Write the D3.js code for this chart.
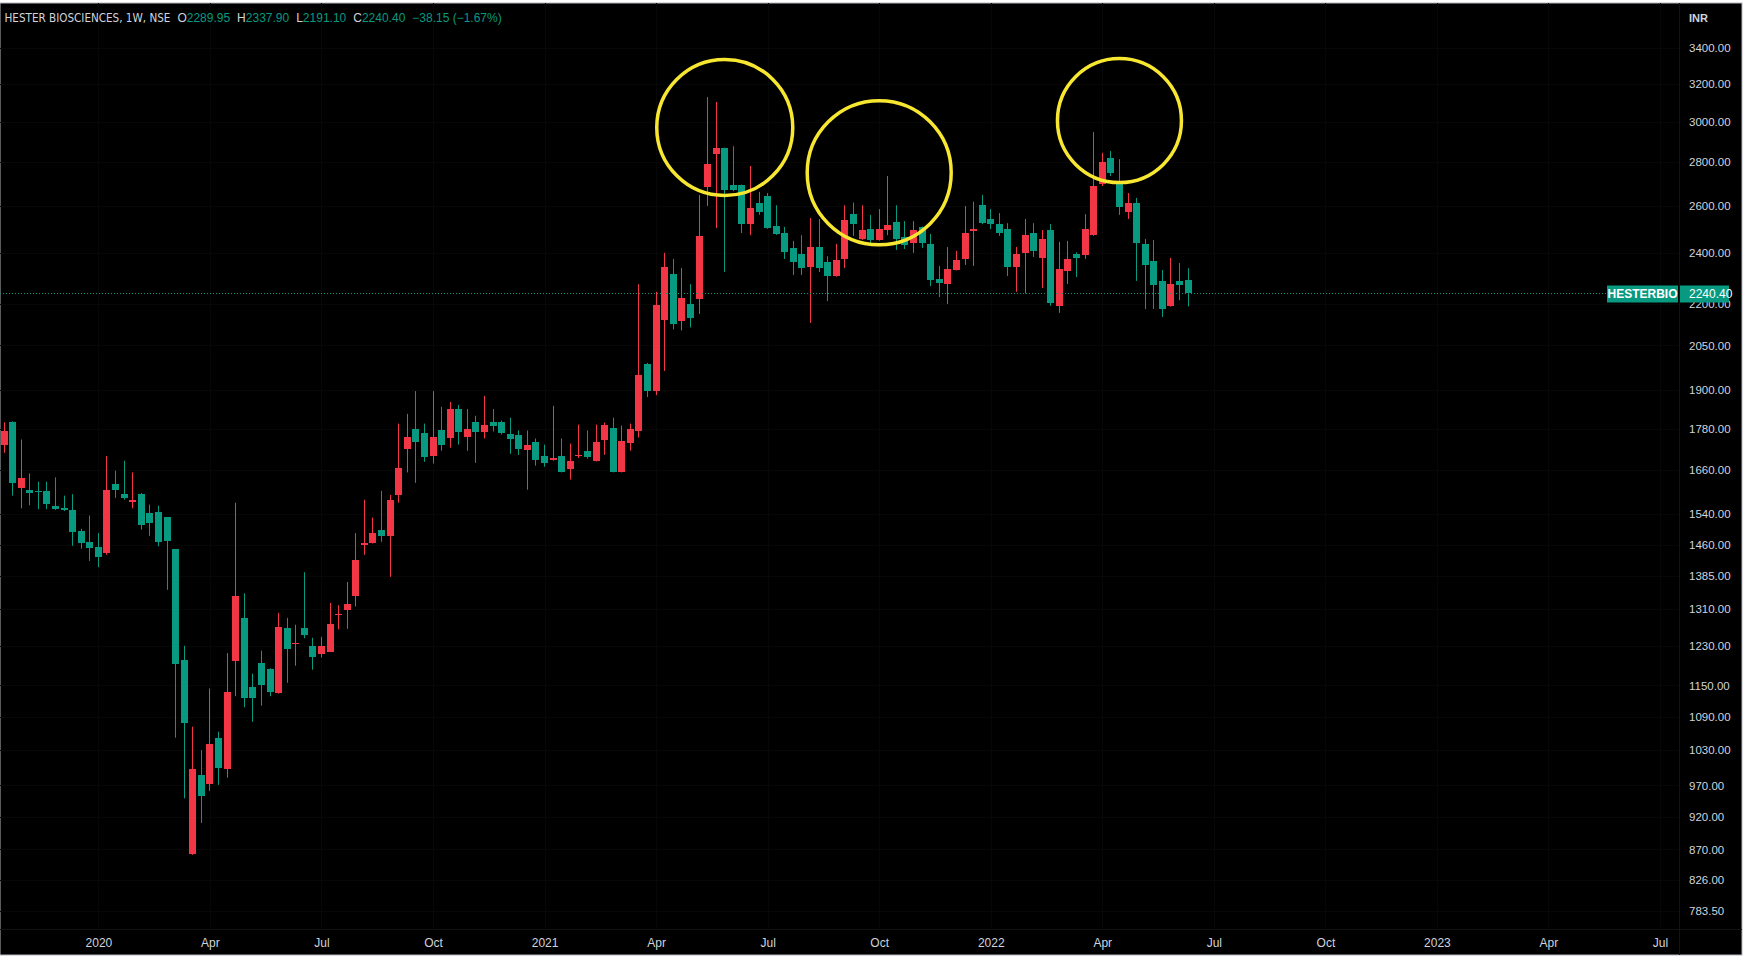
<!DOCTYPE html>
<meta charset="utf-8">
<script src="https://cdnjs.cloudflare.com/ajax/libs/d3/7.8.5/d3.min.js"></script>
<style>
  html, body { margin: 0; padding: 0; background: #ffffff; overflow: hidden; }
  svg { display: block; font-family: "Liberation Sans", Arial, sans-serif; }
</style>
<svg width="1753" height="961"></svg>
<script>
// weekly candles, Oct 21 2019 -> Jun 13 2022
var open = [1729,1799,1607,1604,1601,1601,1559,1554,1550,1495,1467,1455,1441,1620,1592,1572,1592,1543,1545,1530,
  1450,1201,863,988,972,1051,999,1197,1290,1146,1195,1182,1136,1268,1233,1268,1230,1214,1218,1295,
  1308,1339,1462,1466,1498,1484,1588,1717,1780,1765,1696,1774,1750,1840,1756,1801,1771,1801,1801,1762,
  1759,1717,1741,1699,1688,1699,1663,1699,1713,1685,1747,1783,1654,1738,1771,1987,1897,2141,2315,2138,
  2200,2218,2684,2839,2868,2693,2693,2520,2612,2644,2512,2482,2420,2396,2343,2424,2363,2307,2375,2563,
  2457,2499,2453,2495,2529,2466,2441,2508,2436,2296,2276,2331,2375,2491,2602,2542,2520,2499,2343,2400,
  2482,2379,2495,2193,2327,2396,2392,2473,2698,2820,2698,2573,2612,2436,2367,2288,2193,2288,2289.95];
var high = [1799,1802,1747,1649,1626,1626,1638,1588,1592,1501,1535,1490,1699,1657,1685,1652,1595,1564,1561,1530,
  1450,1230,1072,1030,1144,1063,1215,1569,1345,1173,1220,1184,1301,1290,1275,1394,1247,1249,1323,1318,
  1371,1490,1577,1530,1601,1590,1795,1825,1897,1795,1897,1847,1862,1853,1840,1819,1882,1840,1804,1813,
  1774,1774,1750,1732,1850,1750,1735,1792,1774,1792,1798,1813,1789,1795,2275,1990,2246,2400,2375,2339,
  2275,2648,3128,3102,2870,2877,2695,2782,2662,2657,2602,2508,2449,2473,2546,2542,2386,2437,2602,2614,
  2602,2560,2585,2735,2602,2533,2533,2510,2478,2347,2424,2408,2599,2618,2648,2585,2568,2524,2424,2542,
  2524,2495,2520,2445,2449,2402,2563,2947,2845,2854,2814,2657,2635,2457,2453,2331,2379,2359,2337.90];
var low = [1708,1588,1554,1562,1552,1552,1550,1547,1458,1451,1421,1406,1436,1582,1577,1554,1499,1483,1457,1353,
  1052,949,862,910,961,971,983,1129,1108,1081,1111,1129,1134,1155,1189,1246,1181,1206,1217,1265,
  1266,1315,1436,1464,1468,1383,1569,1652,1623,1682,1677,1714,1723,1732,1714,1679,1750,1771,1762,1705,
  1702,1604,1671,1668,1685,1652,1632,1693,1691,1683,1702,1652,1652,1714,1753,1878,1884,1963,2107,2103,
  2114,2163,2599,2503,2323,2665,2482,2473,2560,2500,2474,2375,2311,2311,2130,2323,2211,2305,2339,2470,
  2453,2441,2450,2473,2412,2416,2400,2420,2268,2226,2200,2329,2351,2347,2520,2499,2470,2307,2246,2239,
  2383,2261,2193,2167,2276,2303,2375,2470,2689,2735,2560,2542,2288,2181,2181,2152,2190,2214,2191.10];
var close = [1771,1621,1635,1597,1599,1566,1552,1549,1494,1465,1453,1431,1604,1604,1582,1577,1509,1517,1468,1470,
  1193,1079,998,954,1040,999,1138,1338,1125,1125,1151,1136,1270,1224,1236,1252,1208,1230,1277,1298,
  1321,1423,1466,1490,1484,1577,1663,1753,1741,1693,1753,1729,1840,1768,1780,1771,1792,1789,1768,1747,
  1717,1732,1688,1679,1693,1654,1685,1702,1696,1741,1792,1654,1744,1780,1948,1897,2197,2343,2128,2222,
  2148,2470,2791,2868,2671,2671,2520,2590,2573,2504,2478,2404,2363,2339,2424,2339,2307,2371,2538,2520,
  2495,2453,2499,2516,2457,2432,2495,2441,2292,2280,2335,2371,2482,2499,2524,2520,2482,2343,2396,2473,
  2408,2457,2204,2335,2375,2379,2499,2689,2800,2749,2595,2612,2441,2351,2272,2181,2276,2272,2240.40];

var weeks = d3.utcMonday.range(new Date(Date.UTC(2019, 9, 21)), new Date(Date.UTC(2022, 5, 14)));

var timeTicks = ["2020-01-06","2020-04-06","2020-07-06","2020-10-05","2021-01-04","2021-04-05","2021-07-05",
  "2021-10-04","2022-01-03","2022-04-04","2022-07-04","2022-10-03","2023-01-02","2023-04-03","2023-07-03"];
var timeLabels = ["2020","Apr","Jul","Oct","2021","Apr","Jul","Oct","2022","Apr","Jul","Oct","2023","Apr","Jul"];
var priceTicks = [3400,3200,3000,2800,2600,2400,2200,2050,1900,1780,1660,1540,1460,1385,1310,1230,1150,1090,
  1030,970,920,870,826,783.5];

var symbol = "HESTERBIO";
var title = "HESTER BIOSCIENCES, 1W, NSE";
var change = "\u221238.15 (\u22121.67%)";

// highlighted tops: week index, price at the centre of the ring
var ringWeek = [84, 102, 130];
var ringPrice = [2970, 2750, 3005];

var up = "#F23645", down = "#089981", txt = "#d1d4dc";

var svg = d3.select("svg");
var W = 1742, H = 955, top0 = 3, axisX = 1679, axisY = 929;

var parse = d3.utcParse("%Y-%m-%d");
var tickDates = timeTicks.map(parse);

var x = d3.scaleUtc()
  .domain([parse("2020-01-06"), parse("2023-07-03")])
  .range([98.4, 1660]);
var y = d3.scaleLog()
  .domain([3400, 783.5])
  .range([48, 911]);

svg.append("rect")
  .attr("x", 0).attr("y", top0).attr("width", W).attr("height", H - top0)
  .attr("fill", "#000").attr("stroke", "#b2b5be").attr("stroke-width", 1);

// grid (barely visible)
svg.append("g").selectAll("line").data(priceTicks).enter().append("line")
  .attr("x1", 0).attr("x2", axisX)
  .attr("y1", function(d){ return Math.round(y(d)) + 0.5; })
  .attr("y2", function(d){ return Math.round(y(d)) + 0.5; })
  .attr("stroke", "#070707");
svg.append("g").selectAll("line").data(tickDates).enter().append("line")
  .attr("y1", top0).attr("y2", axisY)
  .attr("x1", function(d){ return Math.round(x(d)) + 0.5; })
  .attr("x2", function(d){ return Math.round(x(d)) + 0.5; })
  .attr("stroke", "#070707");

// candles
var bars = weeks.map(function(d, i){
  return {date: d, o: open[i], h: high[i], l: low[i], c: close[i]};
});
var cg = svg.append("g");
var candle = cg.selectAll("g").data(bars).enter().append("g")
  .attr("fill", function(d){ return d.c >= d.o ? up : down; });
candle.append("rect")
  .attr("x", function(d){ return Math.round(x(d.date) - 3.5) + 3; })
  .attr("width", 1)
  .attr("y", function(d){ return y(d.h); })
  .attr("height", function(d){ return Math.max(1, y(d.l) - y(d.h)); });
candle.append("rect")
  .attr("x", function(d){ return Math.round(x(d.date) - 3.5); })
  .attr("width", 7)
  .attr("y", function(d){ return Math.round(y(Math.max(d.o, d.c))); })
  .attr("height", function(d){ return Math.max(1, Math.round(y(Math.min(d.o, d.c)) - y(Math.max(d.o, d.c)))); });

// yellow rings
var ringR = [68, 72, 62];
svg.append("g").selectAll("circle").data(ringWeek).enter().append("circle")
  .attr("cx", function(d){ return x(weeks[d]); })
  .attr("cy", function(d, i){ return y(ringPrice[i]); })
  .attr("r", function(d, i){ return ringR[i]; })
  .attr("fill", "none").attr("stroke", "#f7e731").attr("stroke-width", 3.5);

// last price line
var last = close[close.length - 1];
svg.append("line")
  .attr("x1", 0).attr("x2", 1607)
  .attr("y1", Math.round(y(last)) + 0.5).attr("y2", Math.round(y(last)) + 0.5)
  .attr("stroke", down).attr("stroke-dasharray", "1,2");

// axis separators
svg.append("line").attr("x1", axisX + 0.5).attr("x2", axisX + 0.5).attr("y1", top0).attr("y2", H)
  .attr("stroke", "#131313");
svg.append("line").attr("x1", 0).attr("x2", W).attr("y1", axisY + 0.5).attr("y2", axisY + 0.5)
  .attr("stroke", "#131313");

// price axis
var yAxis = svg.append("g")
  .attr("transform", "translate(" + axisX + ",0)")
  .call(d3.axisRight(y).tickValues(priceTicks).tickFormat(function(d){ return d.toFixed(2); })
    .tickSize(0).tickPadding(10));
yAxis.select(".domain").remove();
yAxis.selectAll("text").attr("fill", txt).attr("font-size", 11.5)
  .attr("font-family", "'Liberation Sans', Arial, sans-serif");

svg.append("text").attr("x", 1689).attr("y", 22).attr("fill", txt)
  .attr("font-size", 11).attr("font-weight", "bold").text("INR");

// time axis
var xAxis = svg.append("g")
  .attr("transform", "translate(0," + axisY + ")")
  .call(d3.axisBottom(x).tickValues(tickDates).tickFormat(function(d, i){ return timeLabels[i]; })
    .tickSize(0).tickPadding(9.5));
xAxis.select(".domain").remove();
xAxis.selectAll("text").attr("fill", txt).attr("font-size", 12)
  .attr("font-family", "'Liberation Sans', Arial, sans-serif");

// last price labels
var ly = Math.round(y(last)) - 7.5;
svg.append("rect").attr("x", 1607).attr("y", ly).attr("width", 71).attr("height", 17).attr("fill", down);
svg.append("text").attr("x", 1642.5).attr("y", ly + 12.5).attr("text-anchor", "middle")
  .attr("fill", "#fff").attr("font-size", 12).attr("font-weight", "bold").text(symbol);
svg.append("rect").attr("x", axisX + 1).attr("y", ly).attr("width", 49).attr("height", 17).attr("fill", down);
svg.append("text").attr("x", 1689).attr("y", ly + 12.5)
  .attr("fill", "#fff").attr("font-size", 12).text(last.toFixed(2));

// header: narrow face for the name, OHLC follows it
var titleText = svg.append("text").attr("x", 4.5).attr("y", 22).attr("fill", txt)
  .attr("font-family", "'Liberation Sans Narrow', 'DejaVu Sans Condensed', sans-serif")
  .attr("font-size", 12.5).text(title);
var titleLen = titleText.node().getComputedTextLength();
if (titleLen > 166) {
  titleText.attr("font-size", 12.5 * 166 / titleLen);
  titleLen = titleText.node().getComputedTextLength();
}
var hd = svg.append("text").attr("x", 4.5 + titleLen + 7).attr("y", 22).attr("font-size", 12);
var lastBar = bars[bars.length - 1];
[["O", lastBar.o], ["H", lastBar.h], ["L", lastBar.l], ["C", lastBar.c]].forEach(function(p, i){
  hd.append("tspan").attr("dx", i ? 7 : 0).attr("fill", txt).text(p[0]);
  hd.append("tspan").attr("fill", down).text(p[1].toFixed(2));
});
hd.append("tspan").attr("dx", 7).attr("fill", down).text(change);
</script>
